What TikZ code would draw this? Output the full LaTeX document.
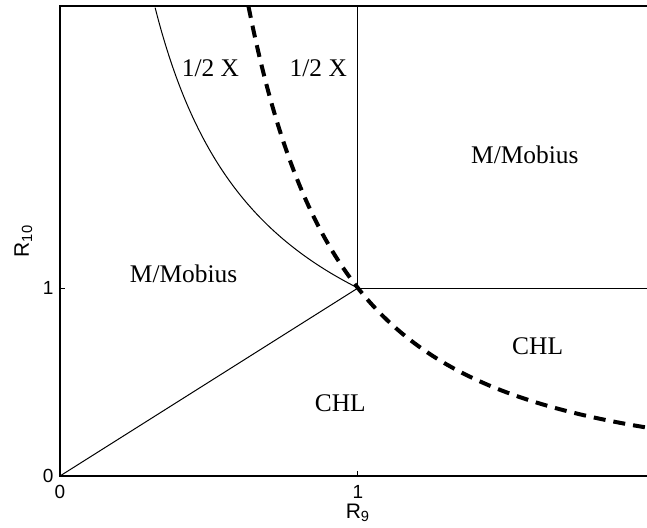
\documentclass[tikz,border=0pt]{standalone}
\usepackage{fontspec}
\setmainfont{Liberation Serif}
\setsansfont{Liberation Sans}

\begin{document}
\begin{tikzpicture}[x=149pt, y=94pt,
    region/.style={font=\fontsize{12.7}{15}\selectfont},
    ticklabel/.style={font=\sffamily\fontsize{9.5}{11}\selectfont, inner sep=3pt},
    axislabel/.style={font=\sffamily\fontsize{10.5}{12}\selectfont, inner sep=0pt}]
    \useasboundingbox (-0.201,-0.271) rectangle (1.970,2.532);
    \clip (-0.201,-0.271) rectangle (1.970,2.532);
    \draw[line width=0.6pt] (0,0) rectangle (2,2.5);
    \draw[line width=0.5pt] (1,0) -- ++(0pt,2.5pt);
    \draw[line width=0.5pt] (0,1) -- ++(2.5pt,0pt);
    \draw[line width=0.5pt] (0,0) -- (1,1);
    \draw[line width=0.5pt] (1,2.5) -- (1,1) -- (2,1);
    \draw[line width=0.5pt, domain=0.3195:1, samples=60, smooth] plot (\x, {\x^(-0.8)});
    \draw[line width=2pt, dash pattern=on 6pt off 4pt, domain=0.6325:1.97, samples=80, smooth] plot (\x, {1/(\x*\x)});
    \node[ticklabel, left] (y0) at (0,0) {0};
    \node[ticklabel, left] (y1) at (0,1) {1};
    \node[ticklabel, below, inner sep=4.6pt] (x0) at (0,0) {0};
    \node[ticklabel, below, inner sep=4.6pt] (x1) at (1,0) {1};
    \node[axislabel, anchor=base] (xlab) at ([yshift=-21.2pt]1,0) {R\textsubscript{9}};
    \node[axislabel, anchor=base, rotate=90] (ylab) at ([xshift=-15.5pt]0,1.25) {R\textsubscript{10}};
    \node[region] (halfxa) at (0.505,2.169) {1/2 X};
    \node[region] (halfxb) at (0.867,2.169) {1/2 X};
    \node[region] (mobiusa) at (0.415,1.074) {M/Mobius};
    \node[region] (mobiusb) at (1.560,1.707) {M/Mobius};
    \node[region] (chla) at (0.941,0.387) {CHL};
    \node[region] (chlb) at (1.603,0.688) {CHL};
\end{tikzpicture}
\end{document}
